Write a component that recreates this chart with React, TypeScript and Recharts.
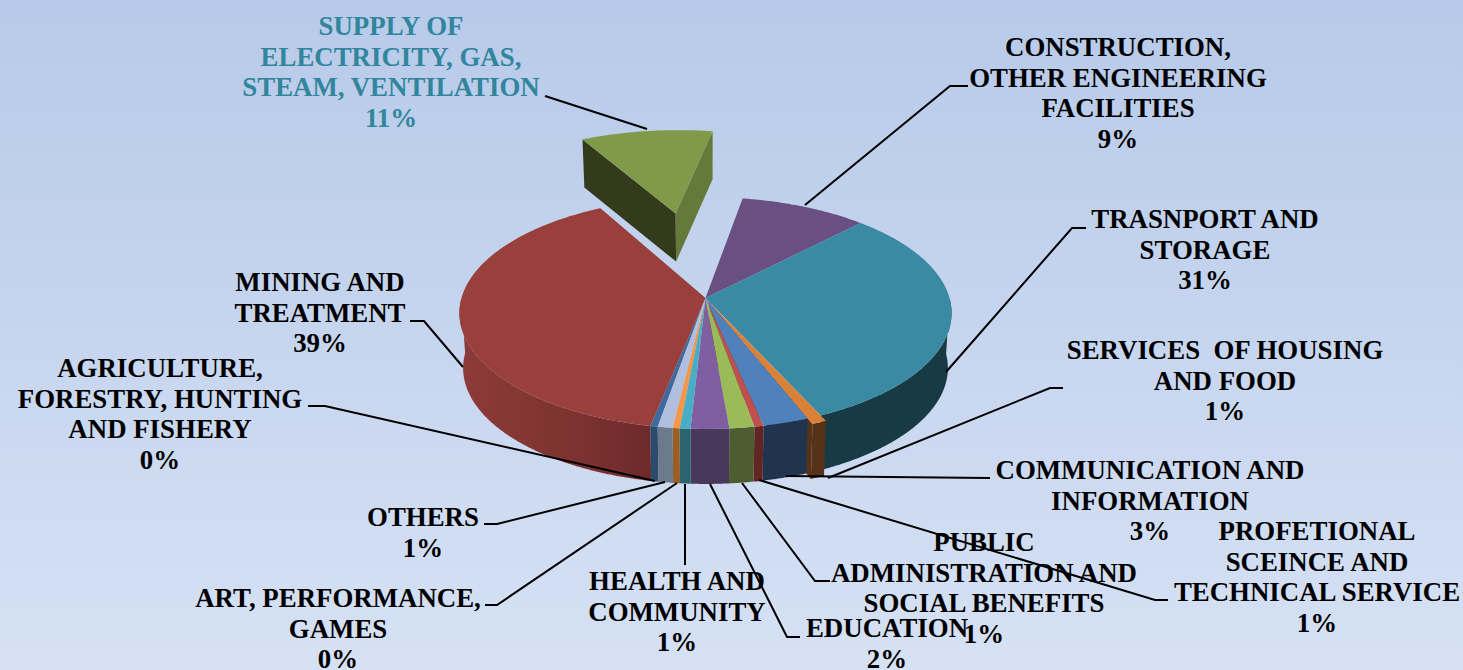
import { PieChart, Pie } from "recharts";

// series order follows the workbook, clockwise from the front of the pie
const categories = [
  ["AGRICULTURE,", "FORESTRY, HUNTING", "AND FISHERY"],
  ["MINING AND", "TREATMENT"],
  ["SUPPLY OF", "ELECTRICITY, GAS,", "STEAM, VENTILATION"],
  ["CONSTRUCTION,", "OTHER ENGINEERING", "FACILITIES"],
  ["TRASNPORT AND", "STORAGE"],
  ["SERVICES  OF HOUSING", "AND FOOD"],
  ["COMMUNICATION AND", "INFORMATION"],
  ["PROFETIONAL", "SCEINCE AND", "TECHNICAL SERVICE"],
  ["PUBLIC", "ADMINISTRATION AND", "SOCIAL BENEFITS"],
  ["EDUCATION"],
  ["HEALTH AND", "COMMUNITY"],
  ["ART, PERFORMANCE,", "GAMES"],
  ["OTHERS"],
];
const shares = [0.43, 38.88, 10.7, 9.49, 30.92, 0.85, 2.67, 0.53, 1.44, 2.21, 0.62, 0.4, 0.86];

const topColors = [
  "#40699E", "#993F3C", "#7F9A48", "#6A5082", "#3A8AA3", "#DA8137", "#4F81BD",
  "#C0504D", "#9BBB59", "#7F5FA0", "#4BACC6", "#F79646", "#AFBFDD",
];
const wallColors = [
  "#2A4A6E", "url(#miningWall)", "#333B1C", "#3A2C4A", "#183A44", "#553318", "#20344F",
  "#622523", "#4E5D2F", "#483859", "#2A6470", "#9B5E25", "#6B7A8C",
];
const explodes = [0, 0, 0.83, 0, 0, 0.04, 0, 0, 0, 0, 0, 0, 0];
const startFaces: Record<number, string> = { 2: "#333B1C" };
const endFaces: Record<number, string> = { 2: "#64793A", 5: "#553318" };

// label centre x, first text line y, leader polyline
const labelX = [160, 320, 391, 1118, 1205, 1225, 1150, 1317, 984, 887, 677, 338, 423];
const labelY = [377, 291, 35, 56, 228, 359, 479, 540, 551, 637, 590, 607, 526];
const leaders = [
  "308,406 325,406 655,481",
  "410,321 424,321 463,367",
  "545,96 647,129",
  "968,86 950,86 805,205",
  "1086,228 1072,228 946,372",
  "1063,388 1050,388 828,478",
  "990,478 786,476",
  "1168,600 1155,600 759,480",
  "830,581 815,581 742,483",
  "800,637 787,637 710,484",
  "685,565 685,484",
  "485,605 497,605 677,483",
  "484,524 497,524 665,482",
];

const WIDTH = 1463;
const HEIGHT = 670;
const LINE = 30.7;
// perspective of the tilted disc
const K = 0.1293;
const RY_RATIO = 0.4672;
const BOTTOM_SCALE = 0.985;

const data = categories.map((lines, i) => ({ name: lines.join(" "), value: shares[i] }));

function SliceShape(props: any) {
  const { cx, cy, outerRadius: rx, startAngle, endAngle, index } = props;
  const ry = rx * RY_RATIO;
  const rad = Math.PI / 180;
  const mid = ((startAngle + endAngle) / 2) * rad;
  const e = explodes[index];
  const depth = e > 0.3 ? 48 : 55;

  const project = (u: number, v: number): [number, number] => {
    const w = 1 - K * v;
    return [cx + (rx * u) / w, cy + (ry * v) / w];
  };
  const apex: [number, number] = [e * Math.cos(mid), -e * Math.sin(mid)];
  const rimAt = (deg: number) =>
    project(apex[0] + Math.cos(deg * rad), apex[1] - Math.sin(deg * rad));
  const lower = ([x, y]: [number, number]): [number, number] => [
    cx + (x - cx) * BOTTOM_SCALE,
    y + depth,
  ];
  const toPath = (pts: [number, number][]) =>
    "M" + pts.map((p) => `${p[0].toFixed(2)},${p[1].toFixed(2)}`).join("L") + "Z";

  const steps = Math.max(2, Math.ceil(Math.abs(startAngle - endAngle) * 2));
  const angles = Array.from({ length: steps + 1 }, (_, i) => startAngle + ((endAngle - startAngle) * i) / steps);
  const rim = angles.map(rimAt);
  const apexPt = project(apex[0], apex[1]);

  const frontRim = e > 0.3 ? [] : angles.filter((a) => Math.sin(a * rad) <= 0).map(rimAt);
  const face = (corner: [number, number]) =>
    toPath([apexPt, corner, lower(corner), lower(apexPt)]);

  return (
    <g>
      {index === 1 && (
        <defs>
          <linearGradient id="miningWall" gradientUnits="userSpaceOnUse" x1="460" y1="0" x2="655" y2="0">
            <stop offset="0" stopColor="#8C3B38" />
            <stop offset="0.55" stopColor="#7E3331" />
            <stop offset="1" stopColor="#6C2A2A" />
          </linearGradient>
        </defs>
      )}
      {frontRim.length > 1 && (
        <path d={toPath([...frontRim, ...frontRim.map(lower).reverse()])} fill={wallColors[index]} />
      )}
      {startFaces[index] && <path d={face(rim[0])} fill={startFaces[index]} />}
      {endFaces[index] && <path d={face(rim[rim.length - 1])} fill={endFaces[index]} />}
      <path d={toPath([apexPt, ...rim])} fill={topColors[index]} />
    </g>
  );
}

function renderLabel(props: any) {
  const { index, percent } = props;
  const x = labelX[index];
  const lines = [...categories[index], `${Math.round(percent * 100)}%`];
  return (
    <g key={index}>
      <polyline points={leaders[index]} fill="none" stroke="#000" strokeWidth={2} />
      <text
        x={x}
        y={labelY[index]}
        textAnchor="middle"
        fontFamily="'Liberation Serif', serif"
        fontWeight="bold"
        fontSize={26.85}
        fill={index === 2 ? "#31859C" : "#000"}
        style={{ whiteSpace: "pre" }}
      >
        {lines.map((line, i) => (
          <tspan key={i} x={x} dy={i === 0 ? 0 : LINE}>
            {line}
          </tspan>
        ))}
      </text>
    </g>
  );
}

export default function App() {
  return (
    <div
      style={{
        position: "absolute",
        left: 0,
        top: 0,
        width: WIDTH,
        height: HEIGHT,
        overflow: "hidden",
        background: "linear-gradient(180deg, #B7CAE9 0%, #D6E1F4 100%)",
      }}
    >
      <PieChart width={WIDTH} height={HEIGHT} margin={{ top: 0, right: 0, bottom: 0, left: 0 }}>
        <Pie
          data={data}
          dataKey="value"
          nameKey="name"
          cx={705.5}
          cy={298}
          innerRadius={0}
          outerRadius={244}
          startAngle={-99.84}
          endAngle={-459.84}
          stroke="none"
          shape={SliceShape}
          label={renderLabel}
          labelLine={false}
          isAnimationActive={false}
        />
      </PieChart>
    </div>
  );
}
